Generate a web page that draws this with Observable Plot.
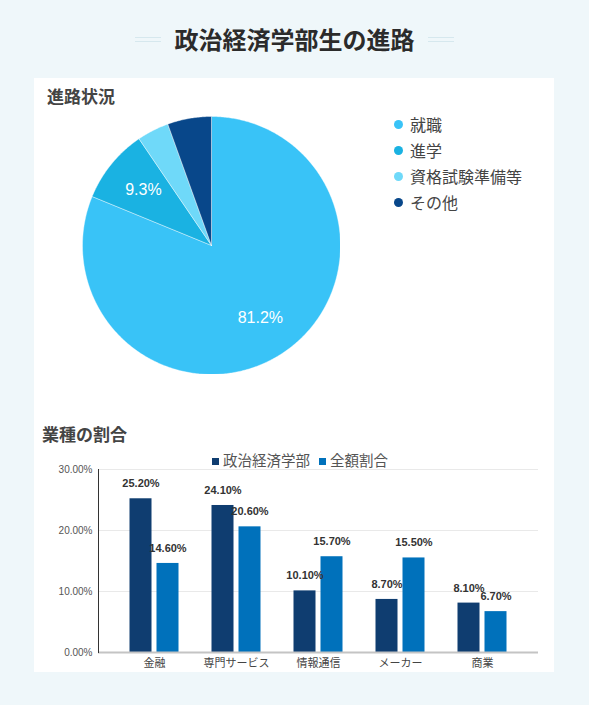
<!DOCTYPE html>
<html><head><meta charset="utf-8">
<script src="https://cdn.jsdelivr.net/npm/d3@7"></script>
<script src="https://cdn.jsdelivr.net/npm/@observablehq/plot@0.6"></script>
<style>
html,body{margin:0;padding:0;}
body{width:589px;height:705px;overflow:hidden;background:#eff7fa;position:relative;font-family:"Liberation Sans","Noto Sans CJK JP",sans-serif;}
.abs{position:absolute;}
#card{left:34px;top:78px;width:520px;height:594px;background:#fff;}
#title{left:0;width:589px;top:24px;text-align:center;font-family:"Noto Sans CJK JP",sans-serif;font-weight:700;font-size:24px;color:#2b2b2b;line-height:30px;}
.deco{top:37px;width:26px;height:3px;border-top:1px solid #d6e8ee;border-bottom:1px solid #d6e8ee;}
.sec{font-family:"Noto Sans CJK JP",sans-serif;font-weight:700;font-size:17px;color:#444;line-height:20px;}
.pl{display:flex;align-items:center;height:20px;font-size:16px;color:#444;font-family:"Noto Sans CJK JP",sans-serif;}
.pl i{display:inline-block;width:9px;height:9px;border-radius:50%;margin-right:7px;}
#barLegend{left:0;width:600px;top:450px;text-align:center;font-size:14.5px;color:#555;line-height:20px;font-family:"Noto Sans CJK JP",sans-serif;}
#barLegend span.sw{display:inline-block;width:7px;height:7px;margin-right:4px;vertical-align:1px;}
</style></head>
<body>
<div id="card" class="abs"></div>
<div id="title" class="abs">政治経済学部生の進路</div>
<div class="abs deco" style="left:135px"></div>
<div class="abs deco" style="left:428px"></div>
<div class="abs sec" style="left:47px;top:86px">進路状況</div>
<div class="abs sec" style="left:42px;top:424px">業種の割合</div>
<div id="pieLegend" class="abs" style="left:394px;top:114px"></div>
<div id="barLegend" class="abs"></div>
<div id="pie" class="abs" style="left:82px;top:116px"></div>
<div id="bar" class="abs" style="left:0;top:440px"></div>
<script>
// ---- Pie data ----
const pieLabels = ["就職", "進学", "資格試験準備等", "その他"];
const pieValues = [81.2, 9.3, 4.0, 5.5];
const pieColors = ["#39c3f7", "#1ab2e2", "#6fd9f9", "#08478a"];

// ---- Bar data ----
const categories = ["金融", "専門サービス", "情報通信", "メーカー", "商業"];
const seriesNames = ["政治経済学部", "全額割合"];
const seriesA = [0.252, 0.241, 0.101, 0.087, 0.081];
const seriesB = [0.146, 0.206, 0.157, 0.155, 0.067];
const seriesColors = ["#0f3d70", "#0071bb"];
const yTicks = [0, 0.1, 0.2, 0.3];

// Pie geometry from d3.pie angles
const arcs = d3.pie().sort(null).value(d => d.value)(pieLabels.map((l, i) => ({label: l, value: pieValues[i]})));
const piePts = [];
for (const a of arcs) {
  const lab = a.data.label;
  piePts.push({label: lab, x: 0, y: 0});
  const n = Math.max(2, Math.ceil((a.endAngle - a.startAngle) / 0.01));
  for (let k = 0; k <= n; k++) {
    const t = a.startAngle + (a.endAngle - a.startAngle) * k / n;
    piePts.push({label: lab, x: Math.sin(t), y: Math.cos(t)});
  }
  piePts.push({label: lab, x: 0, y: 0});
}
const pieText = arcs.filter(a => a.data.value > 6).map(a => {
  const m = (a.startAngle + a.endAngle) / 2;
  return {x: 0.68 * Math.sin(m), y: 0.68 * Math.cos(m), text: a.data.value + "%"};
});

const pie = Plot.plot({
  width: 258, height: 258, margin: 0,
  x: {domain: [-1, 1], axis: null},
  y: {domain: [-1, 1], axis: null},
  color: {domain: pieLabels, range: pieColors},
  marks: [
    Plot.line(piePts, {x: "x", y: "y", z: "label", fill: "label", stroke: "white", strokeWidth: 0.4}),
    Plot.text(pieText, {x: "x", y: "y", text: "text", fill: "white", fontSize: 16, fontFamily: "Liberation Sans, Arial, sans-serif"})
  ]
});
document.getElementById("pie").appendChild(pie);

document.getElementById("pieLegend").innerHTML = pieLabels.map((l, i) =>
  `<div class="pl" style="margin-bottom:6px"><i style="background:${pieColors[i]}"></i>${l}</div>`).join("");

document.getElementById("barLegend").innerHTML = seriesNames.map((s, i) =>
  `<span class="sw" style="background:${seriesColors[i]}"></span>${s}`).join('<span style="display:inline-block;width:9px"></span>');

const rows = [];
categories.forEach((c, i) => {
  rows.push({cat: c, series: seriesNames[0], value: seriesA[i]});
  rows.push({cat: c, series: seriesNames[1], value: seriesB[i]});
});
const rA = rows.filter(d => d.series === seriesNames[0]);
const rB = rows.filter(d => d.series === seriesNames[1]);
const fmt = d3.format(".2%");

const bar = Plot.plot({
  width: 589, height: 240,
  marginLeft: 98, marginRight: 51, marginTop: 29, marginBottom: 28,
  style: {fontFamily: "Liberation Sans, 'Noto Sans CJK JP', sans-serif", background: "transparent"},
  x: {domain: categories, range: [113, 523.5], padding: 0, label: null},
  y: {domain: [0, 0.3], label: null},
  marks: [
    Plot.ruleY(yTicks.filter(t => t > 0), {stroke: "#e9e9e9", strokeWidth: 1}),
    Plot.barY(rA, {x: "cat", y: "value", fill: seriesColors[0], insetLeft: 16.5, insetRight: 43.5}),
    Plot.barY(rB, {x: "cat", y: "value", fill: seriesColors[1], insetLeft: 43.5, insetRight: 16.5}),
    Plot.text(rA, {x: "cat", y: "value", text: d => fmt(d.value), dx: -13.5, dy: -15, fontWeight: "bold", fontSize: 11, fill: "#333"}),
    Plot.text(rB, {x: "cat", y: "value", text: d => fmt(d.value), dx: 13.5, dy: -15, fontWeight: "bold", fontSize: 11, fill: "#333"}),
    Plot.ruleY([0], {stroke: "#c4c4c4", strokeWidth: 2}),
    Plot.frame({anchor: "left", stroke: "#333"}),
    Plot.axisY({ticks: yTicks, tickFormat: fmt, tickSize: 0, tickPadding: 6, fontSize: 10, fill: "#555", label: null}),
    Plot.axisX({tickSize: 0, tickPadding: 7, fontSize: 11, fill: "#444", label: null})
  ]
});
document.getElementById("bar").appendChild(bar);
</script>
</body></html>
